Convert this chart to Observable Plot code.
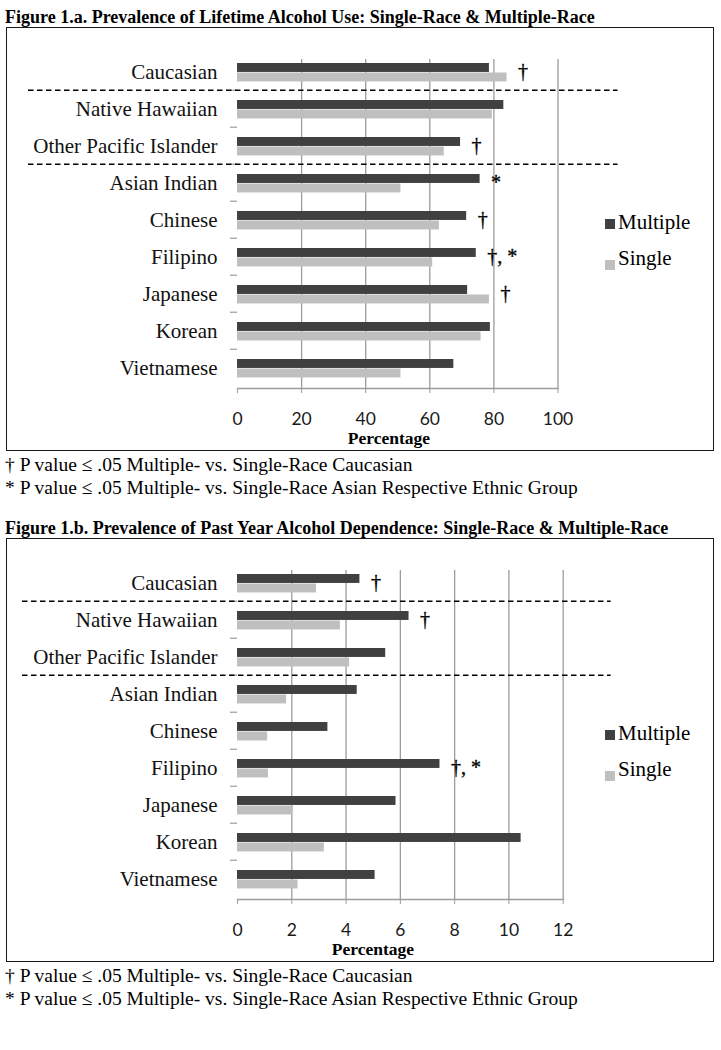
<!DOCTYPE html>
<html><head><meta charset="utf-8">
<script src="https://cdn.jsdelivr.net/npm/d3@7"></script>
<script src="https://cdn.jsdelivr.net/npm/@observablehq/plot@0.6"></script>
<style>
html,body{margin:0;padding:0;background:#fff}
body{width:721px;height:1050px;position:relative;overflow:hidden;font-family:"Liberation Serif","Times New Roman",serif;color:#000}
.abs{position:absolute;white-space:nowrap}
.title{font-weight:bold;font-size:18px;line-height:20px;left:5px}
.box{border:1.7px solid #1a1a1a;box-sizing:border-box;left:6px;width:708px}
.foot{font-size:19.5px;line-height:22px;left:5px}
.pct{font-weight:bold;font-size:17.5px;line-height:20px;transform:translateX(-50%)}
.leg{font-size:21px;line-height:24px}
.sw{width:10px;height:10px}
svg{overflow:visible}
svg text{font-family:"Liberation Serif","Times New Roman",serif}
svg g.xt text{font-family:Lato,"Open Sans",sans-serif}
</style></head><body>
<script>
// ---------- data ----------
const categories = ["Caucasian","Native Hawaiian","Other Pacific Islander","Asian Indian","Chinese","Filipino","Japanese","Korean","Vietnamese"];
const series = ["Multiple","Single"];
const seriesColors = ["#404040","#bfbfbf"];
const separators = ["Native Hawaiian","Asian Indian"];

const lifetimeTitle = "Figure 1.a. Prevalence of Lifetime Alcohol Use: Single-Race & Multiple-Race";
const lifetimeMultiple = [78.6,83.1,69.6,75.7,71.5,74.5,71.8,78.9,67.5];
const lifetimeSingle   = [84.1,79.5,64.5,51.0,63.0,60.9,78.6,76.0,51.0];
const lifetimeTicks = [0,20,40,60,80,100];
const lifetimeNoteCats = ["Caucasian","Other Pacific Islander","Asian Indian","Chinese","Filipino","Japanese"];
const lifetimeNoteText = ["†","†","*","†","†, *","†"];

const dependenceTitle = "Figure 1.b. Prevalence of Past Year Alcohol Dependence: Single-Race & Multiple-Race";
const dependenceMultiple = [4.51,6.32,5.46,4.41,3.33,7.46,5.84,10.45,5.07];
const dependenceSingle   = [2.91,3.79,4.13,1.81,1.11,1.14,2.05,3.20,2.23];
const dependenceTicks = [0,2,4,6,8,10,12];
const dependenceNoteCats = ["Caucasian","Native Hawaiian","Filipino"];
const dependenceNoteText = ["†","†","†, *"];

const axisLabel = "Percentage";
const footnotes = ["† P value ≤ .05 Multiple- vs. Single-Race Caucasian",
                   "* P value ≤ .05 Multiple- vs. Single-Race Asian Respective Ethnic Group"];

// ---------- drawing ----------
const SERIF = "Liberation Serif";
function el(cls, css, text){
  const d = document.createElement("div");
  d.className = "abs " + cls;
  Object.assign(d.style, css);
  if (text != null) d.textContent = text;
  document.body.appendChild(d);
  return d;
}

function figure(cfg){
  const off = cfg.offset;
  el("title", {top: (off + 7) + "px"}, cfg.title);
  el("box", {top: (off + 27) + "px", height: "424px"});

  const W = 721, H = 451, mT = 50, mB = 63, mL = 237;
  const bw = (H - mT - mB) / categories.length;
  const rows = categories.map((c, i) => ({category: c, Multiple: cfg.multiple[i], Single: cfg.single[i]}));
  const maxOf = c => { const i = categories.indexOf(c); return Math.max(cfg.multiple[i], cfg.single[i]); };
  const notes = cfg.noteCats.map((c, i) => ({category: c, text: cfg.noteText[i], x: maxOf(c)}));
  const grid = "#9c9c9c";

  const svg = Plot.plot({
    width: W, height: H,
    marginTop: mT, marginBottom: mB, marginLeft: mL, marginRight: cfg.marginRight,
    style: {fontFamily: SERIF, fontSize: "21px", background: "transparent", color: "#000"},
    x: {domain: [cfg.ticks[0], cfg.ticks[cfg.ticks.length - 1]]},
    y: {domain: categories, padding: 0, axis: null},
    marks: [
      Plot.gridX(cfg.ticks.slice(1), {stroke: grid, strokeOpacity: 1, strokeWidth: 1.3, insetTop: 9}),
      Plot.ruleY(categories.slice(1), {y: d => d, dy: -bw / 2, x1: cfg.ticks[0], x2: cfg.ticks[0], insetLeft: -7, stroke: grid, strokeWidth: 1.2}),
      Plot.barX(rows, {y: "category", x: "Multiple", fill: seriesColors[0], insetTop: 10, insetBottom: bw - 19.5}),
      Plot.barX(rows, {y: "category", x: "Single", fill: seriesColors[1], insetTop: 19.5, insetBottom: bw - 29}),
      Plot.frame({anchor: "bottom", stroke: grid, strokeWidth: 1.3}),
      Plot.axisX(cfg.ticks, {anchor: "bottom", tickSize: 5, tickPadding: 19, stroke: grid, color: "#1a1a1a",
        fontFamily: "Lato", fontSize: 17.5, label: null, tickFormat: d => String(d), className: "xt"}),
      Plot.axisY({anchor: "left", tickSize: 0, tickPadding: 20, fontSize: 21, fontFamily: SERIF, label: null, color: "#111"}),
      Plot.ruleY(separators, {y: d => d, dy: -bw / 2, stroke: "#000", strokeWidth: 1.4, strokeDasharray: "5.5,3.5",
        insetLeft: -cfg.dashLeft, insetRight: -cfg.dashRight}),
      Plot.text(notes, {y: "category", x: "x", text: "text", dx: 11, textAnchor: "start", fontSize: 20,
        fontFamily: SERIF, fill: "#000", stroke: "#000", strokeWidth: 0.35})
    ]
  });
  svg.style.position = "absolute";
  svg.style.left = "0px";
  svg.style.top = off + "px";
  document.body.appendChild(svg);

  el("pct", {left: cfg.pctX + "px", top: (off + 428) + "px"}, axisLabel);

  // legend
  const legText = [222, 258], legSw = [223.5, 265];
  series.forEach((s, i) => {
    el("sw", {left: "605px", top: (off + legSw[i] - 5) + "px", background: seriesColors[i]});
    el("leg", {left: "618px", top: (off + legText[i] - 12) + "px"}, s);
  });

  footnotes.forEach((f, i) => el("foot", {top: (off + 454 + i * 23) + "px"}, f));
}

figure({offset: 0, title: lifetimeTitle, multiple: lifetimeMultiple, single: lifetimeSingle,
  ticks: lifetimeTicks, noteCats: lifetimeNoteCats, noteText: lifetimeNoteText,
  marginRight: 163.5, dashLeft: 209, dashRight: 60, pctX: 389});
figure({offset: 511, title: dependenceTitle, multiple: dependenceMultiple, single: dependenceSingle,
  ticks: dependenceTicks, noteCats: dependenceNoteCats, noteText: dependenceNoteText,
  marginRight: 158.3, dashLeft: 215, dashRight: 48, pctX: 373});
</script>
</body></html>
